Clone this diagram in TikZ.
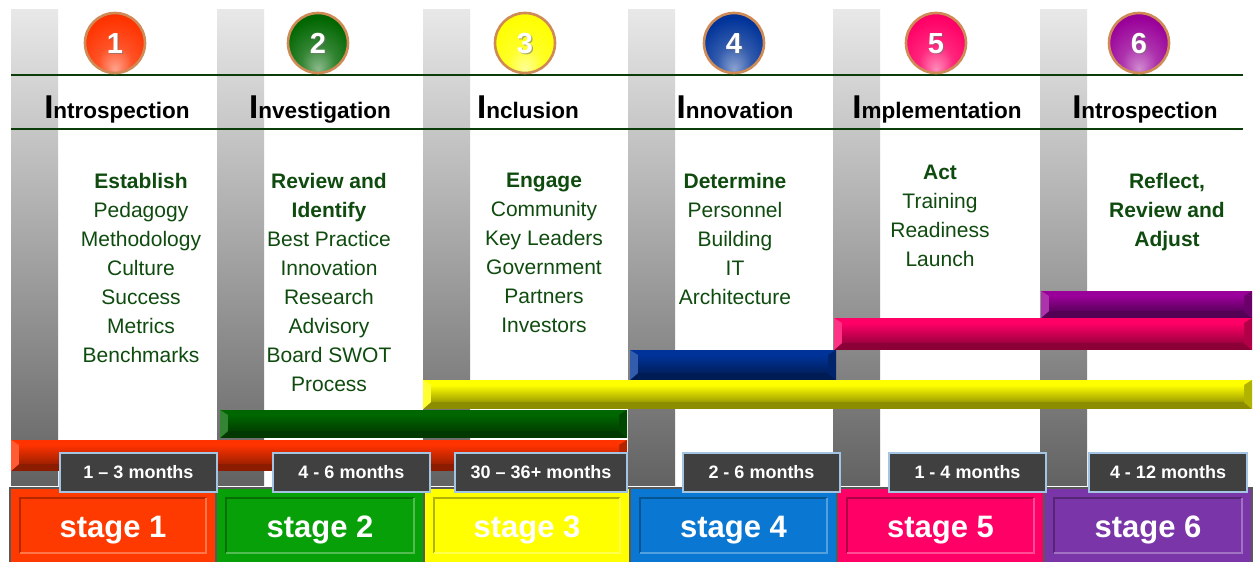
\documentclass[tikz,border=0pt]{standalone}
\usepackage{fontspec}
\setmainfont{Liberation Sans}
\definecolor{cA}{HTML}{FF3300}
\definecolor{cB}{HTML}{006600}
\definecolor{cC}{HTML}{FFFF00}
\definecolor{cD}{HTML}{003399}
\definecolor{cE}{HTML}{FF0066}
\definecolor{cF}{HTML}{990099}
\definecolor{sA}{HTML}{FF3A00}
\definecolor{sB}{HTML}{08A008}
\definecolor{sC}{HTML}{FFFF00}
\definecolor{sD}{HTML}{0A78D2}
\definecolor{sE}{HTML}{FF0066}
\definecolor{sF}{HTML}{7A35A8}
\definecolor{tgreen}{RGB}{15,75,15}
\definecolor{lgreen}{HTML}{0B3D0B}
\definecolor{colTop}{HTML}{E8E8E8}
\definecolor{colBot}{HTML}{626262}
\definecolor{ringc}{HTML}{CF8A55}
\definecolor{durfill}{HTML}{404040}
\definecolor{durline}{HTML}{A4C4E4}
\pgfdeclareradialshading{glowcA}{\pgfpoint{0bp}{-22bp}}{color(0bp)=(cA!45!white); color(14bp)=(cA!85!white); color(30bp)=(cA); color(50bp)=(cA!80!black)}
\pgfdeclareradialshading{glowcB}{\pgfpoint{0bp}{-22bp}}{color(0bp)=(cB!45!white); color(14bp)=(cB!80!white); color(30bp)=(cB); color(50bp)=(cB!80!black)}
\pgfdeclareradialshading{glowcC}{\pgfpoint{0bp}{-22bp}}{color(0bp)=(cC!40!white); color(14bp)=(cC!85!white); color(30bp)=(cC); color(50bp)=(cC!88!black)}
\pgfdeclareradialshading{glowcD}{\pgfpoint{0bp}{-22bp}}{color(0bp)=(cD!45!white); color(14bp)=(cD!80!white); color(30bp)=(cD); color(50bp)=(cD!80!black)}
\pgfdeclareradialshading{glowcE}{\pgfpoint{0bp}{-22bp}}{color(0bp)=(cE!45!white); color(14bp)=(cE!85!white); color(30bp)=(cE); color(50bp)=(cE!80!black)}
\pgfdeclareradialshading{glowcF}{\pgfpoint{0bp}{-22bp}}{color(0bp)=(cF!45!white); color(14bp)=(cF!80!white); color(30bp)=(cF); color(50bp)=(cF!80!black)}
\tikzset{
  hline/.style={draw=lgreen, line width=2pt},
  ring/.style={draw=ringc, line width=2.6pt},
  numtext/.style={text=white, font=\fontsize{29}{29}\selectfont\bfseries, inner sep=0},
  numshadow/.style={text=black!55, font=\fontsize{29}{29}\selectfont\bfseries, inner sep=0, opacity=0.6},
  headtext/.style={text=black, font=\bfseries, inner sep=0, anchor=base},
  bodytext/.style={text=tgreen, align=center, font=\fontsize{21}{29}\selectfont, inner sep=0, anchor=north},
  durbox/.style={fill=durfill, draw=durline, line width=1.6pt, text=white,
    font=\fontsize{18}{18}\selectfont\bfseries, inner sep=0},
  stagetext/.style={text=white, font=\fontsize{31}{31}\selectfont\bfseries, inner sep=0, anchor=base},
}
\newcommand\mycircle[4]{% name x color number
  \fill[#3] (#2,519) circle (30);
  \shade[shading=glow#3] (#2,519) circle (30);
  \draw[ring] (#2,519) circle (30);
  \node[numshadow] at (#2+1.2,517.3) {#4};
  \node[numtext] (#1) at (#2,518.5) {#4};
}
\newcommand\mybar[5]{% x1 y1 x2 y2 color
  \fill[#5] (#1,#2) rectangle (#3,#4);
  \fill[#5!55!black] (#1,#2) -- (#3,#2) -- (#3-8,#2+7) -- (#1+8,#2+7) -- cycle;
  \fill[#5!80!white] (#1,#2) -- (#1+8,#2+7) -- (#1+8,#4-5) -- (#1,#4) -- cycle;
  \fill[#5!70!black] (#3,#2) -- (#3-8,#2+7) -- (#3-8,#4-5) -- (#3,#4) -- cycle;
  \shade[top color=#5, middle color=#5!72!white, bottom color=#5!62!black] (#1+8,#2+7) rectangle (#3-8,#4-5);
}
\newcommand\mystage[5]{% name x1 x2 color text
  \fill[#4] (#2,0) rectangle (#3,74);
  \draw[black!65, line width=1.5pt] (#2,0) -- (#2,74) -- (#3,74) -- (#3,0);
  \draw[#4!70!black, line width=1.5pt] (#2+10,9) -- (#2+10,64) -- (#3-10,64);
  \draw[#4!70!white, line width=1.5pt] (#2+10,9) -- (#3-10,9) -- (#3-10,64);
  \node[stagetext] (#1) at ({(#2+#3)/2},24) {#5};
}
\begin{document}
\begin{tikzpicture}[x=1pt,y=1pt]
\useasboundingbox (0,0) rectangle (1258,562);
\fill[white] (0,0) rectangle (1258,562);
% gray columns
\foreach \cx in {11,217,423,628,833,1040}
  \shade[top color=colTop, bottom color=colBot] (\cx,76) rectangle ++(47,476);
% rules
\draw[hline] (11,487) -- (1243,487);
\draw[hline] (11,432.5) -- (1243,432.5);
% circles
\mycircle{c1}{115}{cA}{1}
\mycircle{c2}{318}{cB}{2}
\mycircle{c3}{525}{cC}{3}
\mycircle{c4}{734}{cD}{4}
\mycircle{c5}{936}{cE}{5}
\mycircle{c6}{1139}{cF}{6}
% headings
\newcommand\bigI{{\fontsize{33}{33}\selectfont I}\fontsize{22.5}{22.5}\selectfont}
\node[headtext] (h1) at (117,443) {\bigI ntrospection};
\node[headtext] (h2) at (320,443) {\bigI nvestigation};
\node[headtext] (h3) at (528,443) {\bigI nclusion};
\node[headtext] (h4) at (735,443) {\bigI nnovation};
\node[headtext] (h5) at (937,443) {\bigI mplementation};
\node[headtext] (h6) at (1145,443) {\bigI ntrospection};
% body texts
\node[bodytext] (t1) at (141,389) {\textbf{Establish}\\Pedagogy\\Methodology\\Culture\\Success\\Metrics\\Benchmarks};
\node[bodytext] (t2) at (329,389) {\textbf{Review and}\\\textbf{Identify}\\Best Practice\\Innovation\\Research\\Advisory\\Board SWOT\\Process};
\node[bodytext] (t3) at (544,389) {\textbf{Engage}\\Community\\Key Leaders\\Government\\Partners\\Investors};
\node[bodytext] (t4) at (735,389) {\textbf{Determine}\\Personnel\\Building\\IT\\Architecture};
\node[bodytext] (t5) at (940,397) {\textbf{Act}\\Training\\Readiness\\Launch};
\node[bodytext] (t6) at (1167,389) {\textbf{Reflect,}\\\textbf{Review and}\\\textbf{Adjust}};
% bars
\mybar{11}{91}{627}{122}{cA}
\mybar{220}{124}{627}{152}{cB}
\mybar{423}{153}{1252}{182}{cC}
\mybar{630}{182}{836}{212}{cD}
\mybar{834}{212}{1252}{244}{cE}
\mybar{1041}{244}{1252}{271}{cF}
% stages
\mystage{s1}{10}{216}{sA}{stage 1}
\mystage{s2}{216}{424}{sB}{stage 2}
\mystage{s3}{424}{630}{sC}{stage 3}
\mystage{s4}{630}{837}{sD}{stage 4}
\mystage{s5}{837}{1044}{sE}{stage 5}
\mystage{s6}{1044}{1252}{sF}{stage 6}
% durations
\node[durbox, minimum width=157, minimum height=39] (d1) at (138.5,89.5) {1 – 3 months};
\node[durbox, minimum width=157, minimum height=39] (d2) at (351.5,89.5) {4 - 6 months};
\node[durbox, minimum width=172, minimum height=39] (d3) at (541,89.5) {30 – 36+ months};
\node[durbox, minimum width=157, minimum height=39] (d4) at (761.5,89.5) {2 - 6 months};
\node[durbox, minimum width=157, minimum height=39] (d5) at (967.5,89.5) {1 - 4 months};
\node[durbox, minimum width=158, minimum height=39] (d6) at (1168,89.5) {4 - 12 months};
\end{tikzpicture}
\end{document}
